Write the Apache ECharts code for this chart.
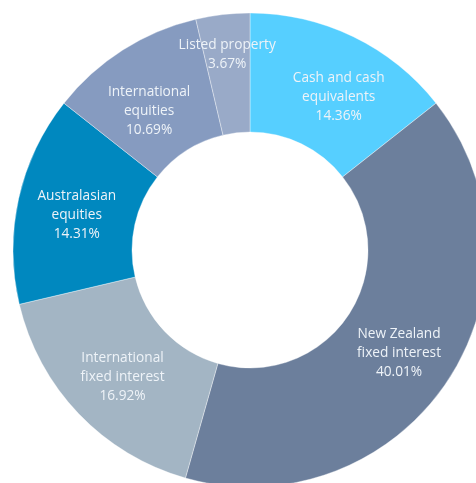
<!DOCTYPE html>
<html>
<head>
<meta charset="utf-8">
<script src="https://cdn.jsdelivr.net/npm/echarts@6/dist/echarts.min.js"></script>
<style>html,body{margin:0;padding:0;background:#fff}#c{width:476px;height:483px}</style>
</head>
<body>
<div id="c"></div>
<script>
var categories = ['Cash and cash\nequivalents', 'New Zealand\nfixed interest', 'International\nfixed interest', 'Australasian\nequities', 'International\nequities', 'Listed property'];
var values = [14.36, 40.01, 16.92, 14.31, 10.69, 3.67];
var colors = ['#56cfff', '#6c7f9c', '#a3b5c4', '#0088bf', '#869bc0', '#99aac8'];
var labelOffsets = [[10, 10], [-1, 3], [3, 2], [3, 4], [-4, 13], [-2, -16]];

var chart = echarts.init(document.getElementById('c'));
chart.setOption({
  animation: false,
  series: [{
    type: 'pie',
    center: [250, 250],
    radius: [118, 237],
    startAngle: 90,
    clockwise: true,
    avoidLabelOverlap: false,
    itemStyle: { borderColor: 'rgba(255,255,255,0.6)', borderWidth: 0.6 },
    label: {
      position: 'inside',
      color: '#eef3f8',
      fontFamily: 'Open Sans',
      fontSize: 13.7,
      lineHeight: 19,
      formatter: function (p) { return p.name + '\n' + p.value.toFixed(2) + '%'; }
    },
    labelLine: { show: false },
    data: categories.map(function (n, i) {
      return { name: n, value: values[i], itemStyle: { color: colors[i] }, label: { offset: labelOffsets[i] } };
    })
  }]
});
</script>
</body>
</html>
